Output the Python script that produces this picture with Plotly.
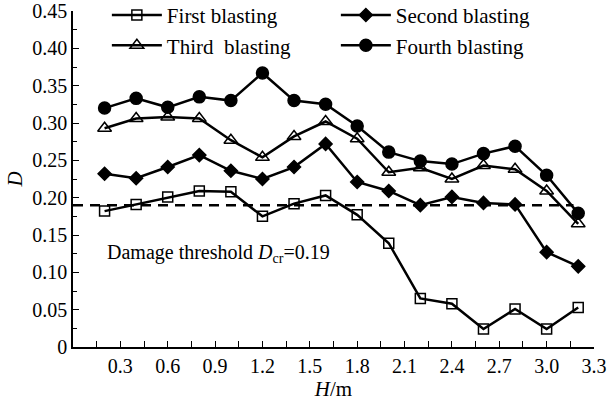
import plotly.graph_objects as go

H = [0.2, 0.4, 0.6, 0.8, 1.0, 1.2, 1.4, 1.6, 1.8, 2.0, 2.2, 2.4, 2.6, 2.8, 3.0, 3.2]
first = [0.182, 0.191, 0.201, 0.209, 0.208, 0.175, 0.192, 0.203, 0.177, 0.139, 0.065, 0.058, 0.024, 0.051, 0.024, 0.053]
second = [0.232, 0.226, 0.241, 0.257, 0.236, 0.225, 0.241, 0.272, 0.221, 0.209, 0.190, 0.201, 0.193, 0.191, 0.127, 0.108]
third = [0.293, 0.306, 0.308, 0.306, 0.277, 0.254, 0.282, 0.302, 0.279, 0.234, 0.240, 0.225, 0.243, 0.238, 0.209, 0.165]
fourth = [0.320, 0.333, 0.321, 0.335, 0.330, 0.367, 0.330, 0.325, 0.296, 0.261, 0.249, 0.245, 0.259, 0.269, 0.230, 0.179]
THRESHOLD = 0.19
THRESH_X = [0.0, 3.17]
x_ticks = [0.3, 0.6, 0.9, 1.2, 1.5, 1.8, 2.1, 2.4, 2.7, 3.0, 3.3]
x_tick_labels = ["0.3", "0.6", "0.9", "1.2", "1.5", "1.8", "2.1", "2.4", "2.7", "3.0", "3.3"]
y_ticks = [0, 0.05, 0.10, 0.15, 0.20, 0.25, 0.30, 0.35, 0.40, 0.45]
y_tick_labels = ["0", "0.05", "0.10", "0.15", "0.20", "0.25", "0.30", "0.35", "0.40", "0.45"]

FONT = "Liberation Serif, Times New Roman, serif"
fig = go.Figure()

series = [
    ("First blasting", first, "square-open", 10),
    ("Second blasting", second, "diamond", 10),
    ("Third  blasting", third, "triangle-up-open", 12),
    ("Fourth blasting", fourth, "circle", 12),
]
for name, vals, sym, size in series:
    fig.add_trace(go.Scatter(
        x=H, y=vals, name=name, mode="lines+markers",
        line=dict(color="black", width=2.5),
        marker=dict(symbol=sym, size=size, color="black",
                    line=dict(color="black", width=1.5)),
    ))

fig.add_trace(go.Scatter(
    x=THRESH_X, y=[THRESHOLD, THRESHOLD], mode="lines", showlegend=False,
    line=dict(color="black", width=2.5, dash="10px,7px"),
))

fig.add_annotation(
    x=0.92, y=0.125, xref="x", yref="y",
    text="Damage threshold <i>D</i><sub>cr</sub>=0.19",
    showarrow=False, font=dict(family=FONT, size=20, color="black"),
)

fig.update_layout(
    width=608, height=401,
    margin=dict(l=73, r=14, t=11, b=54, autoexpand=False),
    plot_bgcolor="white", paper_bgcolor="white",
    font=dict(family=FONT, size=20, color="black"),
    showlegend=True,
    legend=dict(
        orientation="h", x=0.065, y=1.048, xanchor="left", yanchor="top",
        yref="paper",
        entrywidth=164, entrywidthmode="pixels",
        font=dict(family=FONT, size=21, color="black"),
        bgcolor="rgba(0,0,0,0)", itemwidth=50, tracegroupgap=0,
    ),
    xaxis=dict(
        range=[0, 3.3], tickmode="array", tickvals=x_ticks, ticktext=x_tick_labels,
        automargin=False,
        showgrid=False, zeroline=False, showline=True, linecolor="black", linewidth=1.5,
        ticks="inside", ticklen=6, tickwidth=1.2, tickcolor="black",
        minor=dict(dtick=0.15, tick0=0, ticks="inside", ticklen=6, tickcolor="black", tickwidth=1.2),
        tickfont=dict(family=FONT, size=20),
        title=dict(text="<i>H</i>/m", font=dict(family=FONT, size=21), standoff=2),
    ),
    yaxis=dict(
        range=[0, 0.45], tickmode="array", tickvals=y_ticks, ticktext=y_tick_labels,
        automargin=False,
        showgrid=False, zeroline=False, showline=True, linecolor="black", linewidth=1.5,
        ticks="inside", ticklen=6, tickwidth=1.2, tickcolor="black",
        minor=dict(dtick=0.025, tick0=0, ticks="inside", ticklen=4, tickcolor="black", tickwidth=1.2),
        tickfont=dict(family=FONT, size=20),
        title=dict(text="<i>D</i>", font=dict(family=FONT, size=21), standoff=4),
    ),
)

fig.write_html("out.html")
